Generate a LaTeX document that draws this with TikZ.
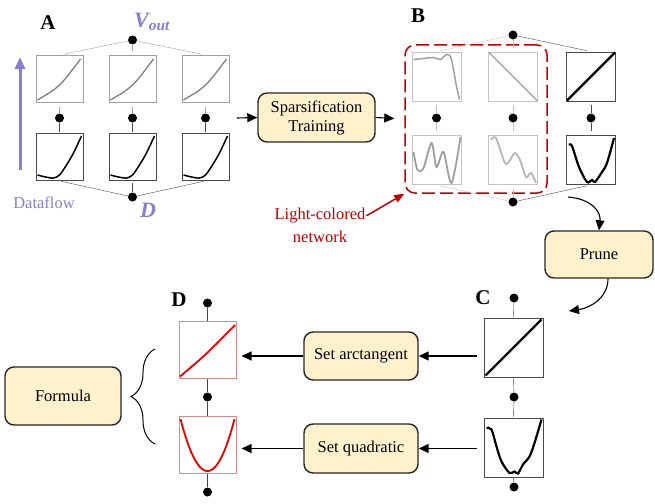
\documentclass[tikz,border=0pt]{standalone}
\usepackage{fontspec}
\setmainfont{Liberation Serif}
\usetikzlibrary{arrows.meta,calc,decorations.pathreplacing}
\definecolor{flowpurple}{HTML}{8B7DD0}
\definecolor{opfill}{HTML}{FFF1CC}
\definecolor{netred}{HTML}{C00000}
\definecolor{symred}{HTML}{E80000}
\definecolor{symframe}{HTML}{D88C8C}
\definecolor{lightline}{HTML}{C4C4C4}
\definecolor{midline}{HTML}{A0A0A0}
\definecolor{darkline}{HTML}{4A4A4A}

\begin{document}
\begin{tikzpicture}[x=1pt,y=-1pt,font=\fontsize{16.5}{19}\selectfont,
  fn/.style={draw=#1,line width=0.8pt,inner sep=0,fill=white},
  dot/.style={circle,fill=black,inner sep=0,minimum size=9pt},
  op/.style={draw=black!85,line width=1.4pt,rounded corners=9pt,fill=opfill,align=center,inner sep=2pt},
  panel/.style={font=\fontsize{21}{22}\selectfont\bfseries},
  arr/.style={-{Triangle[length=10pt,width=9pt]},line width=1.1pt}]
\useasboundingbox (0,0) rectangle (655,503);

% A: dense network
\node[panel] (la) at (48,23) {A};
\node[text=flowpurple,font=\fontsize{22}{24}\selectfont\bfseries\itshape] (vout) at (152,22) {V\textsubscript{out}};
\node[text=flowpurple,font=\fontsize{22}{24}\selectfont\bfseries\itshape] (din) at (148,210) {D};
\node[dot] (at) at (132.5,40) {};
\node[dot] (ab) at (132.5,197) {};
\foreach \i/\x in {1/59.5,2/132.5,3/205.5}{%
  \pgfmathtruncatemacro\k{\i+3}
  \node[fn=midline,minimum size=47pt] (a\i) at (\x,79) {};
  \node[fn=darkline,minimum size=47pt] (a\k) at (\x,157) {};
  \node[dot] (am\i) at (\x,118) {};
  \draw[midline,shorten >=4pt] (at) -- (a\i.north);
  \draw[darkline,shorten >=2pt] (ab) -- (a\k.south);
  \draw[midline,shorten >=4pt] (am\i) -- (a\i.south);
  \draw[darkline,shorten >=1pt] (am\i) -- (a\k.north);
  \draw[gray,line width=1.3pt,shift={(a\i)}] (-22,21) .. controls (0,8) .. (21,-20);
  \draw[line width=1.5pt,shift={(a\k)}] plot[smooth] coordinates {(-22,18) (-14,20) (-6,21) (0,18) (7,8) (14,-4) (22,-21)};
}
\coordinate (df1) at (20,170);
\coordinate (df2) at (20,57);
\draw[flowpurple,line width=3pt,-{Triangle[length=12pt,width=10pt]}] (df1) -- (df2);
\node[text=flowpurple] (dfl) at (44,203) {Dataflow};

\node[op,minimum width=117pt,minimum height=49pt] (sp) at (316.5,117.5) {Sparsification\\Training};
\coordinate (aout) at (237,118);
\draw[arr] (aout) -- (sp.west);

% B: after sparsification
\node[panel] (lb) at (418,16) {B};
\node[draw=netred,line width=1.5pt,dash pattern=on 13pt off 5pt,rounded corners=10pt,minimum width=142pt,minimum height=148pt] (lc) at (476,119) {};
\draw[arr,shorten >=10pt] (sp.east) -- (lc.west);
\node[dot] (bt) at (513,35) {};
\node[dot] (bb) at (513,202) {};
\foreach \i/\x/\c in {1/436.5/lightline,2/513/lightline,3/591/darkline}{%
  \pgfmathtruncatemacro\k{\i+3}
  \node[fn=\c,minimum size=49pt] (b\i) at (\x,76.5) {};
  \node[fn=\c,minimum size=49pt] (b\k) at (\x,160) {};
  \node[dot] (bm\i) at (\x,118) {};
  \draw[\c,shorten >=4pt] (bt) -- (b\i.north);
  \draw[\c,shorten >=4pt] (bb) -- (b\k.south);
  \draw[\c,shorten >=4pt] (bm\i) -- (b\i.south);
  \draw[\c,shorten >=4pt] (bm\i) -- (b\k.north);
}
\draw[midline,line width=1.5pt,shift={(b1)}] plot[smooth] coordinates {(-23,-17) (-13,-18) (-3,-19) (4,-17) (10,-22) (14,-20) (17,-7) (20,10) (23,23)};
\draw[midline,line width=1.3pt,shift={(b2)}] (-24,-24) -- (24,24);
\draw[line width=2.2pt,shift={(b3)}] (-24,24) -- (24,-24);
\draw[midline,line width=1.8pt,shift={(b4)}] plot[smooth] coordinates {(-23,-8) (-19,10) (-13,8) (-5,-17) (0,7) (7,-8) (15,23) (24,-23)};
\draw[lightline!80!gray,line width=1.8pt,shift={(b5)}] plot[smooth] coordinates {(-22,-20) (-17,-22) (-8,3) (-3,0) (2,-7) (7,0) (13,17) (18,13) (23,23)};
\draw[line width=2.2pt,shift={(b6)}] plot[smooth] coordinates {(-22,-15) (-19,-14) (-12,7) (-4,22) (1,20) (4,22) (11,12) (16,3) (23,-22)};

\node[text=netred,align=center,inner sep=0,font=\fontsize{16.5}{23}\selectfont] (lcn) at (320,225) {Light-colored\\network};
\draw[netred,line width=1.5pt,-{Triangle[length=10pt,width=8pt]},shorten <=1pt] ($(lcn.north east)!0.25!(lcn.south east)$) -- (lc.south west);

\node[op,minimum width=108pt,minimum height=47pt] (pr) at (599,254.5) {Prune};
\coordinate (bq) at (568,197);
\coordinate (cq) at (569,311);
\draw[arr] (bq) .. controls (592,199) and (601,212) .. (pr.north);
\draw[arr] ([xshift=9pt]pr.south) .. controls (608,298) and (590,308) .. (cq);

% C: pruned network
\node[panel] (lcc) at (483,298) {C};
\node[dot] (ct) at (514,298) {};
\node[dot] (cm) at (514,397) {};
\node[dot] (cb) at (514,487) {};
\node[fn=darkline,minimum size=59pt] (c1) at (513.5,347.5) {};
\node[fn=darkline,minimum size=59pt] (c2) at (513.5,447.5) {};
\draw[darkline] (ct) -- (c1.north);
\draw[darkline] (cm) -- (c1.south);
\draw[darkline] (cm) -- (c2.north);
\draw[darkline] (cb) -- (c2.south);
\draw[line width=2.2pt,shift={(c1)}] (-28,28) -- (28,-28);
\draw[line width=2.2pt,shift={(c2)}] plot[smooth] coordinates {(-27,-19.5) (-22,-18) (-17,-1) (-12,14) (-4,25.5) (1,24) (4.5,26) (9.5,17) (16,9) (21,-4.5) (28,-28)};

\node[op,minimum width=114pt,minimum height=48pt] (sa) at (361,356) {Set arctangent};
\node[op,minimum width=114pt,minimum height=49pt] (sq) at (361,448.5) {Set quadratic};

% D: symbolic network
\node[panel] (ld) at (179,300) {D};
\node[dot] (dt) at (207.5,303) {};
\node[dot] (dm) at (207.5,397) {};
\node[dot] (db) at (207.5,492) {};
\node[fn=symframe,line width=1pt,minimum size=57pt] (d1) at (207.5,350) {};
\node[fn=symframe,line width=1pt,minimum size=57pt] (d2) at (207.5,445) {};
\draw[symred] (dt) -- (d1.north);
\draw[symred] (dm) -- (d1.south);
\draw[symred] (dm) -- (d2.north);
\draw[symred] (db) -- (d2.south);
\draw[symred,line width=1.8pt,shift={(d1)}] (-27.5,26.5) .. controls (-2,5) .. (27.5,-25);
\draw[symred,line width=1.8pt,shift={(d2)}] plot[domain=-27:27,samples=40] (\x,{26-52*(\x/27)^2});

\draw[arr,shorten <=7pt] (c1.west |- sa.east) -- (sa.east);
\draw[arr,shorten >=5pt] (sa.west) -- (d1.east |- sa.west);
\draw[arr,shorten <=7pt] (c2.west |- sq.east) -- (sq.east);
\draw[arr,shorten >=5pt] (sq.west) -- (d2.east |- sq.west);

\node[op,minimum width=116pt,minimum height=58pt] (fm) at (63,396) {Formula};
\coordinate (br1) at (155,444);
\coordinate (br2) at (155,349);
\draw[line width=1pt,decorate,decoration={brace,amplitude=24pt}] (br1) -- (br2);
\end{tikzpicture}
\end{document}
